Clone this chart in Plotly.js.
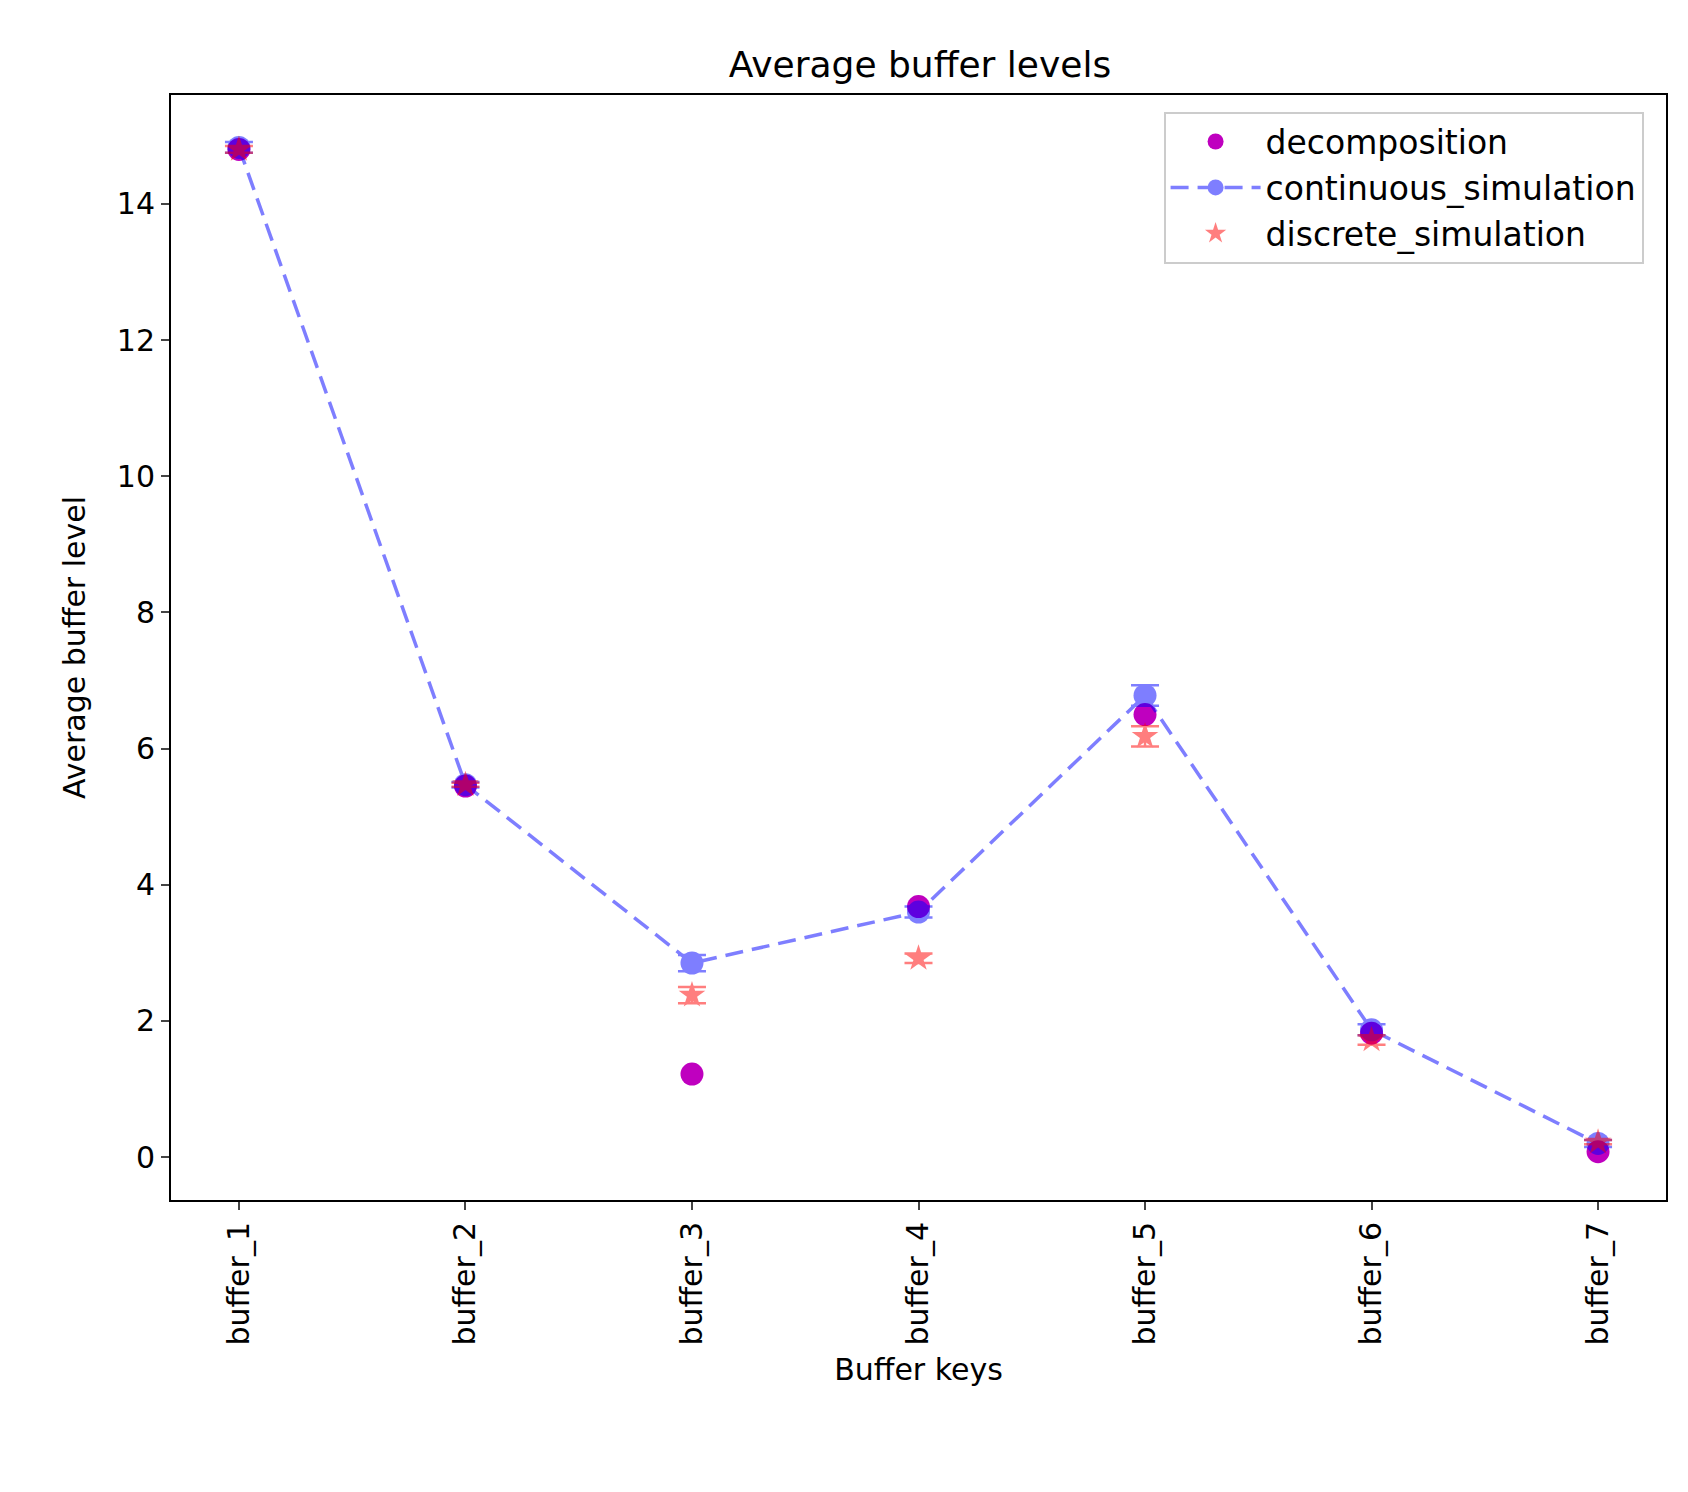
<!DOCTYPE html>
<html>
<head>
<meta charset="utf-8">
<script src="https://cdn.plot.ly/plotly-3.0.1.min.js"></script>
<style>html,body{margin:0;padding:0;background:#fff}</style>
</head>
<body>
<div id="chart" style="width:1688px;height:1492px"></div>
<script>
const bufferKeys = ['buffer_1','buffer_2','buffer_3','buffer_4','buffer_5','buffer_6','buffer_7'];
const decomposition = [14.8, 5.45, 1.22, 3.68, 6.5, 1.82, 0.08];
const continuousSim = [14.83, 5.47, 2.85, 3.6, 6.78, 1.87, 0.2];
const continuousErr = [0.08, 0.04, 0.12, 0.08, 0.15, 0.08, 0.05];
const discreteSim = [14.8, 5.47, 2.38, 2.92, 6.18, 1.72, 0.22];
const discreteErr = [0.05, 0.03, 0.12, 0.07, 0.15, 0.07, 0.03];

const idx = bufferKeys.map((k, i) => i);

let traces = [
    {
        x: idx, y: decomposition, name: 'decomposition',
        mode: 'markers', type: 'scatter',
        marker: {size: 23, color: '#bf00bf'}
    },
    {
        x: idx, y: continuousSim, name: 'continuous_simulation',
        mode: 'lines+markers', type: 'scatter', opacity: 0.5,
        line: {color: 'blue', dash: '18px,9px', width: 3.5},
        marker: {size: 23, color: 'blue'},
        error_y: {type: 'data', array: continuousErr, color: 'blue', thickness: 2.5, width: 14}
    },
    {
        x: idx, y: discreteSim, name: 'discrete_simulation',
        mode: 'markers', type: 'scatter', opacity: 0.5,
        marker: {size: 20, color: 'red', symbol: 'star'},
        error_y: {type: 'data', array: discreteErr, color: 'red', thickness: 2.5, width: 14}
    }
];

const font = {family: 'DejaVu Sans', size: 30, color: '#000'};

const layout = {
    width: 1688, height: 1492,
    margin: {l: 171, r: 22, t: 95, b: 292},
    paper_bgcolor: '#fff', plot_bgcolor: '#fff',
    font: font,
    showlegend: true,
    title: {text: 'Average buffer levels', font: {family: 'DejaVu Sans', size: 36}, x: 0.545, y: 0.965, xanchor: 'center'},
    xaxis: {
        range: [-0.3, 6.3], tickmode: 'array', tickvals: idx, ticktext: bufferKeys,
        tickangle: -90, ticks: 'outside', ticklen: 8, tickwidth: 2,
        showline: true, mirror: true, linecolor: '#000', linewidth: 2,
        showgrid: false, zeroline: false,
        title: {text: 'Buffer keys', font: font, standoff: 14}
    },
    yaxis: {
        range: [-0.63, 15.6], tickvals: [0, 2, 4, 6, 8, 10, 12, 14],
        ticks: 'outside', ticklen: 8, tickwidth: 2,
        showline: true, mirror: true, linecolor: '#000', linewidth: 2,
        showgrid: false, zeroline: false,
        title: {text: 'Average buffer level', font: font, standoff: 22}
    },
    legend: {
        x: 0.985, y: 0.985, xanchor: 'right', yanchor: 'top',
        bordercolor: '#ccc', borderwidth: 2, bgcolor: 'rgba(255,255,255,0.8)',
        font: {family: 'DejaVu Sans', size: 33}, itemwidth: 90, tracegroupgap: 22
    }
};

Plotly.newPlot('chart', traces, layout, {displayModeBar: false});
</script>
</body>
</html>
